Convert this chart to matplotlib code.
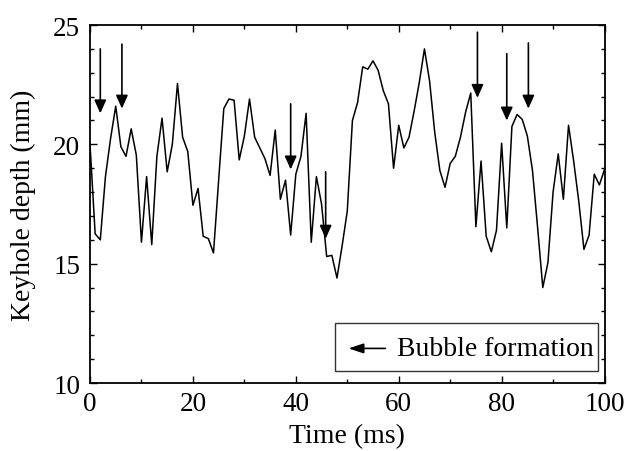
import numpy as np
import matplotlib
matplotlib.use("Agg")
import matplotlib.pyplot as plt
from matplotlib.patches import Rectangle

plt.rcParams['font.family'] = ['Liberation Serif', 'DejaVu Serif']

# keyhole depth sampled every 1 ms
time_ms = np.arange(0, 101)
depth_mm = [
    20.0, 16.25, 16.0, 18.65, 20.25, 21.6, 19.9, 19.5, 20.65, 19.55,
    15.9, 18.65, 15.8, 19.5, 21.1, 18.85, 20.0, 22.55, 20.3, 19.7,
    17.45, 18.15, 16.15, 16.05, 15.45, 18.5, 21.5, 21.9, 21.85, 19.35,
    20.35, 21.9, 20.3, 19.85, 19.4, 18.7, 20.6, 17.7, 18.5, 16.2,
    18.75, 19.5, 21.3, 15.9, 18.65, 17.5, 15.3, 15.35, 14.4, 15.75,
    17.2, 21.0, 21.75, 23.25, 23.15, 23.5, 23.1, 22.25, 21.7, 19.0,
    20.8, 19.85, 20.3, 21.4, 22.6, 24.0, 22.65, 20.5, 18.9, 18.2,
    19.2, 19.5, 20.3, 21.35, 22.15, 16.55, 19.3, 16.15, 15.5, 16.4,
    20.05, 16.5, 20.75, 21.25, 21.05, 20.35, 18.9, 16.5, 14.0, 15.05,
    18.0, 19.6, 17.7, 20.8, 19.3, 17.6, 15.6, 16.2, 18.75, 18.3,
    18.95,
]

# bubble formation arrows: x, tail y, tip y
arrow_x = [2, 6.2, 39, 45.8, 75.3, 81, 85.2]
arrow_tail = [24.0, 24.2, 21.7, 18.85, 24.7, 23.8, 24.25]
arrow_tip = [21.3, 21.5, 18.95, 16.05, 21.95, 21.0, 21.5]

fig = plt.figure(figsize=(6.29, 4.52), dpi=100)
ax = fig.add_axes([0.1431, 0.1504, 0.818, 0.792])

ax.plot(time_ms, depth_mm, color='black', lw=1.1)

for x, y0, y1 in zip(arrow_x, arrow_tail, arrow_tip):
    ax.annotate('', xy=(x, y1), xytext=(x, y0),
                arrowprops=dict(arrowstyle='-|>,head_length=0.8,head_width=0.36',
                                color='black', lw=1.2, shrinkA=0, shrinkB=0,
                                mutation_scale=10))

# legend-like box
ax.add_patch(Rectangle((47.7, 10.49), 51.1, 2.02, fill=False,
                       edgecolor='#333333', lw=1.0, zorder=3))
ax.annotate('', xy=(50.25, 11.45), xytext=(57.4, 11.45),
            arrowprops=dict(arrowstyle='-|>,head_length=0.9,head_width=0.3',
                            color='black', lw=1.2, shrinkA=0, shrinkB=0,
                            mutation_scale=10))
ax.text(59.6, 11.45, 'Bubble formation', fontsize=20, va='center', ha='left')

ax.set_xlim(0, 100)
ax.set_ylim(10, 25)
ax.set_xticks([0, 20, 40, 60, 80, 100])
ax.set_xticks(np.arange(0, 101, 10), minor=True)
ax.set_yticks([10, 15, 20, 25])
ax.set_yticks(np.arange(10, 26, 1), minor=True)
ax.tick_params(which='both', direction='in', top=True, right=True,
               labelsize=19.5, width=1.0)
ax.tick_params(axis='x', pad=6)
ax.tick_params(axis='y', pad=7)
ax.tick_params(which='major', length=5)
ax.tick_params(which='minor', length=3)
for s in ax.spines.values():
    s.set_linewidth(1.3)

ax.set_xlabel('Time (ms)', fontsize=20, labelpad=5)
ax.set_ylabel('Keyhole depth (mm)', fontsize=20, labelpad=12)

fig.savefig('out.png', dpi=100)
